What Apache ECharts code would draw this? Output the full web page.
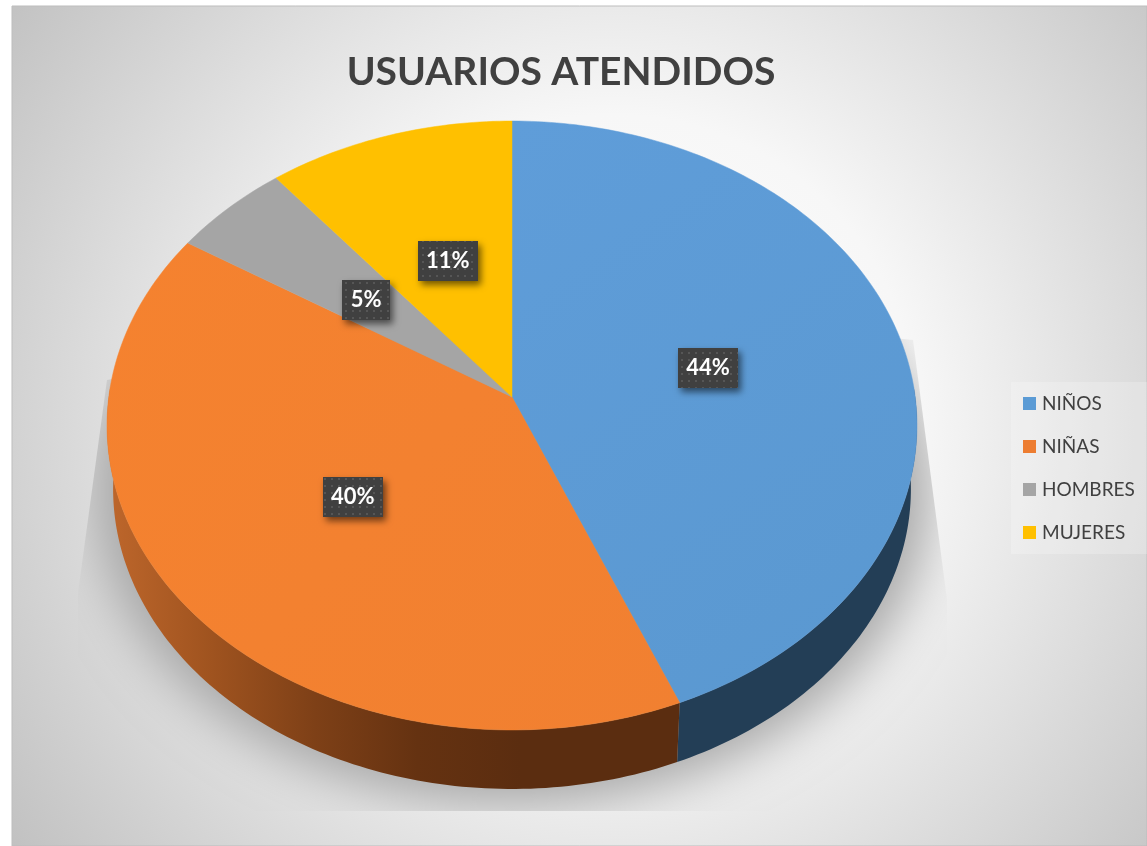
<!DOCTYPE html>
<html>
<head>
<meta charset="utf-8">
<style>
  html, body { margin: 0; padding: 0; background: #fff; }
  #main { width: 1147px; height: 846px; }
</style>
<script src="https://cdn.jsdelivr.net/npm/echarts@6/dist/echarts.min.js"></script>
</head>
<body>
<div id="main"></div>
<script>
const categories = ['NIÑOS', 'NIÑAS', 'HOMBRES', 'MUJERES']
const sliceValues = [43.8, 40.2, 5.2, 10.8]
const legendColors = ['#5b9bd5', '#ed7d31', '#a5a5a5', '#ffc000']
const topColors = [
  ['#5f9dd9', '#5a98d0'],
  ['#f5822f', '#f18031'],
  ['#a5a5a5', '#a5a5a5'],
  ['#ffc000', '#ffc000']
]
const sideColors = [
  ['#233e56', '#233e56', '#233e56', '#233e56', '#233e56'],
  ['#bd662b', '#9f531f', '#7e4017', '#653211', '#5b2d10'],
  ['#636363', '#636363', '#636363', '#636363', '#636363'],
  ['#997300', '#997300', '#997300', '#997300', '#997300']
]

// the pie is a circle seen in perspective, so angles go through a small projection
const cx = 512, cy = 397, lowerCy = 461, lowerScale = 0.985
const a = 403.2, b = 301.8, k = 0.0936

function project (angle, r, lower, grow) {
  const t = angle * Math.PI / 180
  const u = r * Math.sin(t)
  const v = -r * Math.cos(t)
  const w = 1 - k * v
  const x = a * u / w
  const y = b * v / w
  const s = lowerScale * (grow || 1)
  return lower ? [cx + s * x, lowerCy + s * y] : [cx + x, cy + y]
}

function arc (from, to, lower, grow) {
  const pts = []
  const n = Math.max(2, Math.ceil(Math.abs(to - from)))
  for (let i = 0; i <= n; i++) {
    pts.push(project(from + (to - from) * i / n, 1, lower, grow))
  }
  return pts
}

const total = sliceValues.reduce((s, v) => s + v, 0)
const startAngles = []
sliceValues.reduce((s, v, i) => {
  startAngles[i] = s / total * 360
  return s + v
}, 0)

function dotTile () {
  const c = document.createElement('canvas')
  c.width = 7
  c.height = 7
  const g = c.getContext('2d')
  g.fillStyle = '#404040'
  g.fillRect(0, 0, 7, 7)
  g.fillStyle = '#565656'
  g.fillRect(2, 2, 2, 2)
  return c
}
const tile = dotTile()

// only the blur of the floor shadow is wanted, so the shape itself sits off the canvas
const shadowShift = 3000

function renderShadow () {
  return {
    type: 'polygon',
    shape: { points: arc(0, 360, true, 1.05).map(p => [p[0] - shadowShift, p[1]]) },
    style: {
      fill: '#a8a8a8',
      shadowColor: '#a8a8a8',
      shadowBlur: 50,
      shadowOffsetX: shadowShift,
      shadowOffsetY: 0
    },
    clipPath: {
      type: 'polygon',
      shape: { points: [[107, 380], [78, 593], [78, 811], [947, 811], [947, 600], [913, 340], [512, 300]] }
    },
    silent: true
  }
}

function renderSlice (i) {
  return function (params, api) {
    const from = startAngles[i]
    const to = from + api.value(0) / total * 360
    const children = []
    const sideFrom = Math.max(from, 88)
    const sideTo = Math.min(to, 272)
    if (sideTo > sideFrom) {
      children.push({
        type: 'polygon',
        shape: { points: arc(sideFrom, sideTo, false).concat(arc(sideTo, sideFrom, true)) },
        style: {
          fill: new echarts.graphic.LinearGradient(110, 0, 520, 0, sideColors[i].map((c, j) => ({
            offset: j / (sideColors[i].length - 1),
            color: c
          })), true),
          stroke: null
        }
      })
    }
    children.push({
      type: 'polygon',
      shape: { points: [[cx, cy]].concat(arc(from, to, false)) },
      style: {
        fill: new echarts.graphic.LinearGradient(0, 0, 1, 1, [
          { offset: 0, color: topColors[i][0] },
          { offset: 1, color: topColors[i][1] }
        ]),
        stroke: topColors[i][0],
        lineWidth: 0.5
      }
    })
    return { type: 'group', children: children }
  }
}

function renderLabel (params, api) {
  const i = params.dataIndex
  const text = Math.round(api.value(0)) + '%'
  const mid = startAngles[i] + api.value(0) / total * 180
  const p = project(mid, 0.5, false)
  const w = 24 + text.length * 12
  const h = 40
  return {
    type: 'group',
    children: [{
      type: 'rect',
      shape: { x: Math.round(p[0] - w / 2), y: Math.round(p[1] - h / 2), width: w, height: h },
      style: {
        fill: { image: tile, repeat: 'repeat' },
        shadowColor: 'rgba(0,0,0,0.55)',
        shadowBlur: 7,
        shadowOffsetX: 3,
        shadowOffsetY: 4
      }
    }, {
      type: 'text',
      style: {
        x: p[0],
        y: p[1],
        text: text,
        fill: '#fff',
        font: 'bold 22px Lato',
        align: 'center',
        verticalAlign: 'middle'
      }
    }]
  }
}

const chart = echarts.init(document.getElementById('main'), null, { renderer: 'canvas' })

const series = [{
  name: 'sombra',
  type: 'custom',
  coordinateSystem: 'none',
  renderItem: renderShadow,
  data: [0],
  z: 1
}]
categories.forEach((name, i) => {
  series.push({
    name: name,
    type: 'custom',
    coordinateSystem: 'none',
    renderItem: renderSlice(i),
    itemStyle: { color: legendColors[i] },
    data: [sliceValues[i]],
    z: 2
  })
})
series.push({
  name: 'etiquetas',
  type: 'custom',
  coordinateSystem: 'none',
  renderItem: renderLabel,
  data: sliceValues,
  z: 3
})

chart.setOption({
  animation: false,
  backgroundColor: '#fff',
  graphic: [{
    type: 'rect',
    z: -1,
    silent: true,
    shape: { x: 12, y: 6, width: 1135, height: 840 },
    style: {
      fill: new echarts.graphic.RadialGradient(0.53, 0.49, 0.9, [
        { offset: 0, color: '#ffffff' },
        { offset: 0.4, color: '#f7f7f7' },
        { offset: 1, color: '#bfbfbf' }
      ]),
      stroke: '#bdbdbd',
      lineWidth: 1
    }
  }],
  title: {
    text: 'USUARIOS ATENDIDOS',
    left: 556,
    top: 48,
    textAlign: 'center',
    textStyle: {
      color: '#404040',
      fontFamily: 'Lato',
      fontWeight: 'bold',
      fontSize: 39
    }
  },
  legend: {
    data: categories,
    orient: 'vertical',
    left: 1011,
    top: 382,
    icon: 'rect',
    itemWidth: 13,
    itemHeight: 13,
    itemGap: 24,
    padding: [12, 40, 12, 12],
    backgroundColor: 'rgba(255,255,255,0.22)',
    selectedMode: false,
    textStyle: {
      color: '#404040',
      fontFamily: 'Lato',
      fontSize: 19,
      padding: [0, 0, 0, 1]
    }
  },
  series: series
})
window.addEventListener('resize', () => chart.resize())
</script>
</body>
</html>
